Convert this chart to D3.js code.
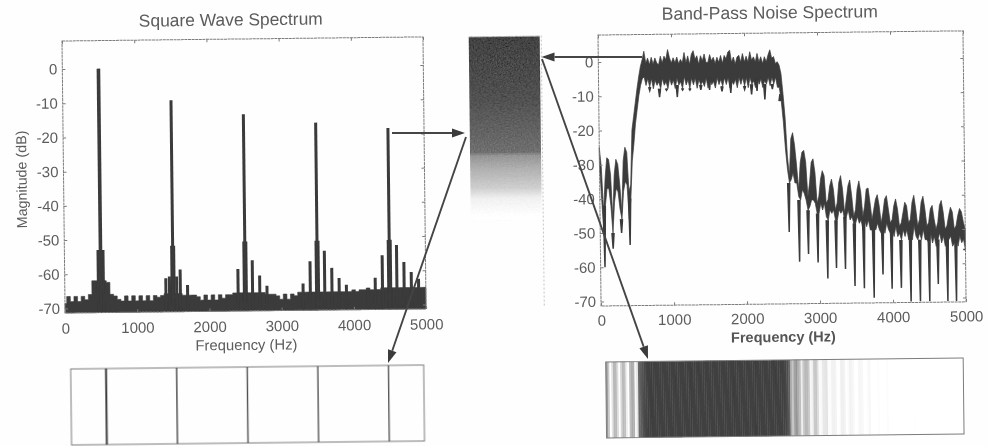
<!DOCTYPE html>
<html><head><meta charset="utf-8">
<script src="https://cdnjs.cloudflare.com/ajax/libs/d3/7.8.5/d3.min.js"></script>
<style>html,body{margin:0;padding:0;background:#fefefe}svg{display:block}
text{font-family:"Liberation Sans",Arial,sans-serif;fill:#5c5c5c}</style></head><body>
<svg id="c" width="988" height="446"></svg>
<script>
// ---- Square wave: harmonics
const peakFreqs=[500,1500,2500,3500,4500];
const peakDb=[0,-9.5,-13.8,-16.5,-18.3];
const shoulderDb=[-53,-52,-51,-51,-51];
const sideFreqs=[1400,1450,1550,1600,1700,2400,2600,2700,2800,3300,3400,3600,3700,3800,3900,4200,4300,4400,4600,4700,4800,4900];
const sideDb=[-61.5,-61,-61,-59,-63.5,-59,-56.5,-61,-64,-63.5,-57,-54,-59,-62,-64,-65,-62,-55.5,-52.5,-57.5,-60.5,-62.5];
// ---- Square wave: floor, one value per 50 Hz
const floorFreqs=[0,50,100,150,200,250,300,350,400,450,500,550,600,650,700,750,800,850,900,950,
1000,1050,1100,1150,1200,1250,1300,1350,1400,1450,1500,1550,1600,1650,1700,1750,1800,1850,1900,1950,
2000,2050,2100,2150,2200,2250,2300,2350,2400,2450,2500,2550,2600,2650,2700,2750,2800,2850,2900,2950,
3000,3050,3100,3150,3200,3250,3300,3350,3400,3450,3500,3550,3600,3650,3700,3750,3800,3850,3900,3950,
4000,4050,4100,4150,4200,4250,4300,4350,4400,4450,4500,4550,4600,4650,4700,4750,4800,4850,4900,4950,5000];
const floorDb=[-68.5,-66.5,-68,-66.5,-68,-66.5,-67.5,-66,-62,-62,-62,-62,-62.5,-66,-66.5,-67.5,-68,-66.5,-68,-66.5,
-68,-66.5,-68,-66.5,-68,-66.5,-67,-66.5,-66,-66,-66,-66,-66,-66.5,-66.5,-66.5,-66.5,-67,-68,-66.5,
-68,-66.5,-68,-66.5,-67.5,-66.5,-66.5,-66,-66,-66,-66,-66,-66,-66,-66,-66,-66.5,-66.5,-66.5,-67,
-68,-66.5,-68,-66.5,-67,-66,-66,-66,-66,-66,-66,-66,-66,-66,-66,-66,-66,-66,-66,-66,
-65.5,-66,-65.5,-65.5,-65,-65.5,-65.5,-65.5,-65,-65,-65,-65,-65,-65,-65,-65,-65,-65,-65,-65,-65];
// ---- Band-pass noise: envelope, one value per 25 Hz
const noiseFreqs=[0,25,50,75,100,125,150,175,200,225,250,275,300,325,350,375,400,425,450,475,
500,525,550,575,600,625,650,675,700,725,750,775,800,825,850,875,900,925,950,975,
1000,1025,1050,1075,1100,1125,1150,1175,1200,1225,1250,1275,1300,1325,1350,1375,1400,1425,1450,1475,
1500,1525,1550,1575,1600,1625,1650,1675,1700,1725,1750,1775,1800,1825,1850,1875,1900,1925,1950,1975,
2000,2025,2050,2075,2100,2125,2150,2175,2200,2225,2250,2275,2300,2325,2350,2375,2400,2425,2450,2475,
2500,2525,2550,2575,2600,2625,2650,2675,2700,2725,2750,2775,2800,2825,2850,2875,2900,2925,2950,2975,
3000,3025,3050,3075,3100,3125,3150,3175,3200,3225,3250,3275,3300,3325,3350,3375,3400,3425,3450,3475,
3500,3525,3550,3575,3600,3625,3650,3675,3700,3725,3750,3775,3800,3825,3850,3875,3900,3925,3950,3975,
4000,4025,4050,4075,4100,4125,4150,4175,4200,4225,4250,4275,4300,4325,4350,4375,4400,4425,4450,4475,
4500,4525,4550,4575,4600,4625,4650,4675,4700,4725,4750,4775,4800,4825,4850,4875,4900,4925,4950,4975,5000];
const noiseHigh=[-25,-31,-44,-34,-28,-28.5,-33,-46,-33,-28.5,-30,-36,-44,-29,-25,-26.5,-38,-36,-20,-16,
-12,-8,-4.5,-1.5,.5,3,-.5,1,-1,1.2,-.8,1,-.5,-1,1.5,-.5,1.5,.5,3.4,1,
-.5,1,-.5,1.2,-.8,.5,-.5,2.5,-.5,1.5,-1,2,3,.5,1.5,-1,1.5,0,2,-.5,
-.5,1.8,0,1,-.8,1,-.5,1.5,-.8,1.5,.5,2.5,3,-.5,1,-1,1,1.5,-.5,2,
-.5,1.2,-.5,2.5,0,1,-.5,2,-.5,1,-1,1,-.5,1.5,3,.5,1,-1,-.5,-1.5,
-4,-10,-17,-28,-34,-23,-21.3,-25,-31,-38,-30,-27,-26.5,-30,-40,-36,-30,-29,-33,-42,
-40,-35,-32.5,-34,-42,-41,-37,-35,-38,-44,-42,-36,-34,-38,-45,-41,-37,-35.3,-40,-46,
-44,-38,-35.6,-39,-46,-43,-38,-37.7,-42,-47,-44,-41,-39.7,-43,-48,-45,-41,-40,-44,-48,
-47,-43,-41,-44,-49,-48,-45,-42,-43,-48,-47,-42,-40,-44,-49,-47,-42,-40.3,-44,-49,
-48,-44,-43,-47,-50,-48,-43,-41.6,-45,-50,-49,-46,-43.6,-45,-50,-49,-46,-44,-45,-48,-50];
const noiseLow=[-30,-40,-50,-42,-37,-37,-42,-50,-41,-37,-38,-43,-46,-38,-35,-36,-46,-40,-29,-24,
-18,-14,-10,-7,-5,-4.5,-7,-5,-7.5,-5,-8,-5.5,-7,-6,-8,-5,-7,-6,-8,-5,
-7,-5.5,-8,-5,-7,-6,-8,-4.5,-7,-5.5,-8,-5,-7,-5,-8,-5.5,-7,-6,-7.5,-5,
-8,-5,-7,-6,-8,-5,-7,-5.5,-7.5,-5,-7,-5,-8,-6,-7,-5.5,-8,-5,-7,-5,
-7.5,-5,-8,-5,-7,-6,-8,-5,-7,-5.5,-8,-6,-7,-5,-7.5,-5,-7,-5,-8,-8,
-12,-18,-26,-32,-36,-35,-33,-36,-36,-40,-41,-38,-39,-41,-44,-43,-41,-41,-42,-45,
-45,-42,-44,-42,-46,-47,-44,-45,-44,-47,-47,-44,-45,-44,-47,-46,-44,-47,-46,-48,
-48,-46,-48,-47,-50,-47,-49,-47,-50,-50,-49,-50,-48,-50,-51,-49,-51,-48,-50,-51,
-50,-52,-49,-52,-51,-53,-50,-52,-50,-53,-51,-53,-49,-52,-53,-51,-53,-50,-53,-53,
-54,-51,-54,-52,-55,-53,-51,-54,-52,-55,-54,-53,-52,-55,-54,-53,-55,-52,-54,-53,-56];
const notchFreqs=[60,175,293,408,700,834,930,1077,1150,1250,1400,1520,1690,1810,2000,2095,2170,2276,2380,2483,2589,2727,2850,2980,3111,3231,3354,3482,3610,3743,3867,3990,4117,4248,4376,4504,4623,4752,4870,4984];
const notchDb=[-60,-54.6,-50,-53.6,-8.5,-10.5,-8.5,-10.5,-8.5,-8.5,-8.5,-8.5,-9,-9.5,-8.5,-10,-9,-11.5,-8.5,-10,-50.3,-59,-56.8,-59.3,-64,-61,-61.3,-66.3,-67,-69.8,-63,-67.2,-67,-71,-71,-71,-66,-71,-71,-56];
// ---- Axes and text
const xTicks=[0,1000,2000,3000,4000,5000];
const yTicks=[0,-10,-20,-30,-40,-50,-60,-70];
const titleLeft="Square Wave Spectrum", titleRight="Band-Pass Noise Spectrum";
const xName="Frequency (Hz)", yName="Magnitude (dB)";
// ---- Colour map: dB to gray
const mapDb=[8,-10,-25.8,-26.2,-30,-36,-39,-45];
const mapGray=["#353535","#474747","#6a6a6a","#8e8e8e","#aaaaaa","#cccccc","#eeeeee","#ffffff"];

const svg=d3.select("#c");
const defs=svg.append("defs");
defs.append("filter").attr("id","scan").attr("x","-5%").attr("y","-5%").attr("width","110%").attr("height","110%")
  .append("feGaussianBlur").attr("stdDeviation",0.55);
const grain=defs.append("filter").attr("id","grain").attr("x",0).attr("y",0).attr("width","100%").attr("height","100%");
grain.append("feTurbulence").attr("type","fractalNoise").attr("baseFrequency",0.7).attr("numOctaves",2).attr("seed",4).attr("result","n");
grain.append("feColorMatrix").attr("in","n").attr("type","matrix").attr("values","1 0 0 0 0 1 0 0 0 0 1 0 0 0 0 0 0 0 0 1").attr("result","g");
grain.append("feComposite").attr("in","SourceGraphic").attr("in2","g").attr("operator","arithmetic").attr("k1",0).attr("k2",1).attr("k3",0.14).attr("k4",-0.05);
svg.append("rect").attr("width",988).attr("height",446).attr("fill","#fefefe");
const root=svg.append("g").attr("filter","url(#scan)");
const ANG=-0.65, INK="#3a3a3a", FRAME="#7c7c7c";
const gray=d3.scaleLinear().domain(mapDb).range(mapGray).clamp(true);
const panelAt=(x,y)=>root.append("g").attr("transform",`translate(${x},${y}) rotate(${ANG})`);

function frame(g,w,h,x,y,pad){
  g.append("rect").attr("width",w).attr("height",h).attr("fill","none").attr("stroke",FRAME).attr("stroke-dasharray","3 .6");
  const st=a=>{a.select(".domain").remove();a.selectAll("line").attr("stroke",FRAME);a.selectAll("text").attr("font-size",15).attr("font-family",null);};
  g.append("g").attr("transform",`translate(0,${h})`).call(d3.axisBottom(x).tickValues(xTicks).tickFormat(d3.format("d")).tickSizeInner(-3).tickPadding(pad)).call(st);
  g.append("g").call(d3.axisLeft(y).tickValues(yTicks).tickFormat(d=>String(d)).tickSizeInner(-3).tickPadding(5)).call(st);
  g.append("g").attr("transform",`translate(${w},0)`).call(d3.axisRight(y).tickValues(yTicks).tickFormat("").tickSizeInner(-3)).call(st);
  g.append("g").call(d3.axisTop(x).tickValues(xTicks).tickFormat("").tickSizeInner(-3)).call(st);
}
function label(g,txt,x,y,size,rot,weight,fill){
  const t=g.append("text").text(txt).attr("text-anchor","middle").attr("font-size",size)
    .attr("transform",`translate(${x},${y})`+(rot?` rotate(${rot})`:""));
  if(weight)t.attr("font-weight",weight); if(fill)t.style("fill",fill);
}

// ---- Left spectrum
{
  const W=361,H=272,g=panelAt(62,41);
  const x=d3.scaleLinear().domain([0,5000]).range([0,W]);
  const y=d3.scaleLinear().domain([8.2,-71.3]).range([0,H]);
  const floor=d3.area().x(d=>x(d[0])).y0(H).y1(d=>y(d[1])).curve(d3.curveStep);
  g.append("path").datum(d3.zip(floorFreqs,floorDb)).attr("d",floor).attr("fill",INK).attr("stroke",INK).attr("stroke-width",.6);
  g.selectAll("line.side").data(d3.zip(sideFreqs,sideDb)).join("line").attr("class","side")
    .attr("x1",d=>x(d[0])).attr("x2",d=>x(d[0])).attr("y1",H).attr("y2",d=>y(d[1]))
    .attr("stroke",INK).attr("stroke-width",3);
  const rows=d3.zip(peakFreqs,peakDb,shoulderDb);
  g.selectAll("line.sh").data(rows).join("line").attr("class","sh")
    .attr("x1",d=>x(d[0])).attr("x2",d=>x(d[0])).attr("y1",H).attr("y2",d=>y(d[2]))
    .attr("stroke",INK).attr("stroke-width",(d,i)=>i?5:8);
  g.selectAll("line.pk").data(rows).join("line").attr("class","pk")
    .attr("x1",d=>x(d[0])).attr("x2",d=>x(d[0])).attr("y1",H).attr("y2",d=>y(d[1]))
    .attr("stroke",INK).attr("stroke-width",(d,i)=>i?3:3.6);
  frame(g,W,H,x,y,10);
  label(g,titleLeft,169,-13.5,17.4);
  label(g,xName,181,311,14.8);
  label(g,yName,-37,138,14.3,-90);
}
// ---- Colour bar
{
  const g=panelAt(468.7,36.4);
  const W=71,H=272;
  const y=d3.scaleLinear().domain([8.2,-71.3]).range([0,H]);
  const rowDb=y.ticks(140).filter(d=>d>=-45);
  const cells=g.append("g").attr("filter","url(#grain)");
  cells.selectAll("rect").data(rowDb).join("rect").attr("x",0).attr("width",W)
    .attr("y",d=>y(d)).attr("height",H/140+1).attr("fill",d=>gray(d));
  g.append("line").attr("x1",W+1.5).attr("x2",W+1.5).attr("y1",0).attr("y2",H).attr("stroke","#c4c4c4").attr("stroke-dasharray","2 2");
}
// ---- Right spectrum
{
  const W=365,H=271,g=panelAt(598,35);
  const x=d3.scaleLinear().domain([0,5000]).range([0,W]);
  const y=d3.scaleLinear().domain([7.9,-71.3]).range([0,H]);
  const band=d3.area().x(d=>x(d[0])).y0(d=>y(d[2])).y1(d=>y(d[1]));
  g.append("path").datum(d3.zip(noiseFreqs,noiseHigh,noiseLow)).attr("d",band)
    .attr("fill",INK).attr("stroke",INK).attr("stroke-width",.7);
  const lowAt=f=>noiseLow[d3.bisectLeft(noiseFreqs,f)];
  const dip=d3.line();
  g.selectAll("path.n").data(d3.zip(notchFreqs,notchDb)).join("path").attr("class","n")
    .attr("d",d=>dip([[x(d[0]-14),y(lowAt(d[0]))],[x(d[0]),y(d[1])],[x(d[0]+14),y(lowAt(d[0]))]]))
    .attr("fill",INK).attr("stroke",INK).attr("stroke-width",1.5);
  frame(g,W,H,x,y,9);
  label(g,titleRight,172,-14.5,17.6);
  label(g,xName,182,309,14.5,0,"bold","#555");
}
// ---- Bottom strips
{
  const W=353,H=76,g=panelAt(70.7,369);
  const x=d3.scaleLinear().domain([0,5000]).range([0,W]);
  g.append("rect").attr("width",W).attr("height",H).attr("fill","#fefefe").attr("stroke",FRAME);
  g.selectAll("line").data(d3.zip(peakFreqs,peakDb)).join("line")
    .attr("x1",d=>x(d[0])).attr("x2",d=>x(d[0])).attr("y1",0).attr("y2",H)
    .attr("stroke",d=>gray(d[1])).attr("stroke-width",(d,i)=>i?1.4:2);
}
{
  const W=357.5,H=76,g=panelAt(605.7,362);
  const x=d3.scaleLinear().domain([0,5000]).range([0,W]);
  g.append("rect").attr("width",W).attr("height",H).attr("fill","#fefefe");
  const cells=g.append("g");
  cells.selectAll("rect").data(d3.zip(noiseFreqs,noiseHigh,noiseLow)).join("rect")
    .attr("x",d=>x(d[0])).attr("width",x(25)-x(0)+.4).attr("y",0).attr("height",H).attr("fill",d=>gray((d[1]+d[2])/2));
  g.append("rect").attr("width",W).attr("height",H).attr("fill","none").attr("stroke",FRAME);
}
// ---- Arrows
const arrows=[[392,133,465,133],[466,137,388,363],[642,57,541.5,57],[542,59,648,359]];
arrows.forEach(([x1,y1,x2,y2])=>{
  const a=Math.atan2(y2-y1,x2-x1),L=13,S=4.5;
  const bx=x2-L*Math.cos(a),by=y2-L*Math.sin(a);
  root.append("line").attr("x1",x1).attr("y1",y1).attr("x2",bx).attr("y2",by).attr("stroke","#444").attr("stroke-width",1.9);
  root.append("path").attr("d",d3.line()([[x2,y2],[bx-S*Math.sin(a),by+S*Math.cos(a)],[bx+S*Math.sin(a),by-S*Math.cos(a)]])+"Z").attr("fill","#3a3a3a");
});
</script></body></html>
